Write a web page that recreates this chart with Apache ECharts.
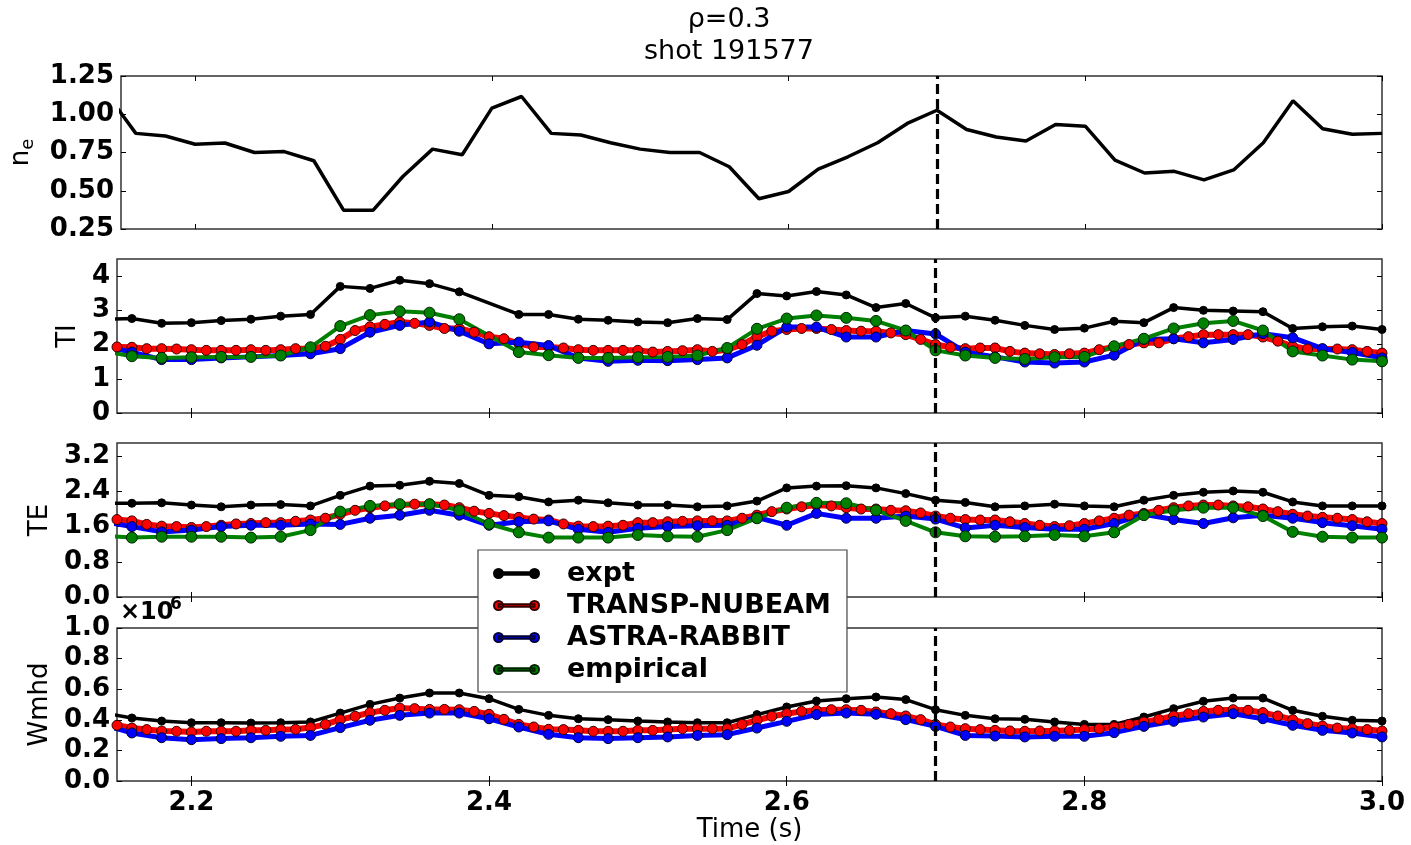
<!DOCTYPE html>
<html>
<head>
<meta charset="utf-8">
<title>rho=0.3 shot 191577</title>
<script src="https://cdn.jsdelivr.net/npm/echarts@6/dist/echarts.min.js"></script>
<style>
  html, body { margin: 0; padding: 0; background: #fff; }
  #chart { width: 1411px; height: 845px; }
</style>
</head>
<body>
<div id="chart"></div>
<script>
// time bases (s): expt / ASTRA / empirical every 20 ms, TRANSP every 10 ms
const tCoarse = [2.14, 2.16, 2.18, 2.20, 2.22, 2.24, 2.26, 2.28, 2.30, 2.32, 2.34, 2.36, 2.38, 2.40, 2.42,
  2.44, 2.46, 2.48, 2.50, 2.52, 2.54, 2.56, 2.58, 2.60, 2.62, 2.64, 2.66, 2.68, 2.70, 2.72, 2.74, 2.76,
  2.78, 2.80, 2.82, 2.84, 2.86, 2.88, 2.90, 2.92, 2.94, 2.96, 2.98, 3.00];
const tFine = [2.15, 2.16, 2.17, 2.18, 2.19, 2.20, 2.21, 2.22, 2.23, 2.24, 2.25, 2.26, 2.27, 2.28, 2.29,
  2.30, 2.31, 2.32, 2.33, 2.34, 2.35, 2.36, 2.37, 2.38, 2.39, 2.40, 2.41, 2.42, 2.43, 2.44, 2.45, 2.46,
  2.47, 2.48, 2.49, 2.50, 2.51, 2.52, 2.53, 2.54, 2.55, 2.56, 2.57, 2.58, 2.59, 2.60, 2.61, 2.62, 2.63,
  2.64, 2.65, 2.66, 2.67, 2.68, 2.69, 2.70, 2.71, 2.72, 2.73, 2.74, 2.75, 2.76, 2.77, 2.78, 2.79, 2.80,
  2.81, 2.82, 2.83, 2.84, 2.85, 2.86, 2.87, 2.88, 2.89, 2.90, 2.91, 2.92, 2.93, 2.94, 2.95, 2.96, 2.97,
  2.98, 2.99, 3.00];
const xTicks = [2.2, 2.4, 2.6, 2.8, 3.0];
const tMark = 2.7;

// n_e
const neExpt = [1.14, 0.875, 0.858, 0.804, 0.812, 0.75, 0.756, 0.696, 0.373, 0.373, 0.593, 0.772, 0.735,
  1.04, 1.116, 0.875, 0.864, 0.814, 0.772, 0.75, 0.75, 0.657, 0.448, 0.495, 0.642, 0.722, 0.814, 0.94,
  1.026, 0.90, 0.851, 0.825, 0.933, 0.922, 0.70, 0.616, 0.627, 0.571, 0.636, 0.814, 1.088, 0.905, 0.869, 0.875];

// TI
const tiExpt = [2.74, 2.76, 2.62, 2.64, 2.70, 2.74, 2.83, 2.88, 3.70, 3.64, 3.88, 3.78, 3.54, null, 2.88,
  2.88, 2.74, 2.71, 2.66, 2.64, 2.76, 2.73, 3.49, 3.42, 3.55, 3.45, 3.08, 3.20, 2.78, 2.83, 2.71, 2.56,
  2.44, 2.48, 2.68, 2.64, 3.08, 3.00, 2.98, 2.96, 2.47, 2.52, 2.54, 2.44];
const tiTransp = [1.93, 1.92, 1.88, 1.88, 1.87, 1.85, 1.83, 1.83, 1.83, 1.85, 1.83, 1.85, 1.88, 1.88, 1.95,
  2.15, 2.41, 2.52, 2.59, 2.66, 2.62, 2.56, 2.47, 2.47, 2.36, 2.23, 2.17, 2.03, 1.93, 1.93, 1.90, 1.85,
  1.83, 1.83, 1.83, 1.83, 1.78, 1.80, 1.82, 1.85, 1.80, 1.85, 2.00, 2.23, 2.39, 2.44, 2.47, 2.47, 2.44,
  2.41, 2.39, 2.39, 2.34, 2.29, 2.15, 2.00, 1.92, 1.88, 1.90, 1.90, 1.80, 1.75, 1.73, 1.71, 1.73, 1.75,
  1.85, 1.93, 2.00, 2.05, 2.05, 2.17, 2.23, 2.29, 2.29, 2.29, 2.29, 2.22, 2.10, 1.95, 1.87, 1.87, 1.87,
  1.85, 1.80, 1.75];
const tiAstra = [1.96, 1.78, 1.56, 1.56, 1.61, 1.64, 1.68, 1.73, 1.88, 2.36, 2.56, 2.66, 2.39, 2.02, 2.07,
  1.97, 1.61, 1.51, 1.54, 1.53, 1.56, 1.61, 1.98, 2.51, 2.51, 2.22, 2.22, 2.41, 2.31, 1.78, 1.64, 1.49,
  1.46, 1.49, 1.69, 2.15, 2.17, 2.05, 2.15, 2.32, 2.20, 1.88, 1.77, 1.61];
const tiEmp = [1.81, 1.66, 1.61, 1.63, 1.64, 1.64, 1.68, 1.92, 2.54, 2.86, 2.97, 2.93, 2.74, null, 1.78,
  1.69, 1.61, 1.61, 1.63, 1.64, 1.68, 1.90, 2.46, 2.76, 2.85, 2.78, 2.69, 2.41, 1.83, 1.68, 1.61, 1.58,
  1.63, 1.64, 1.95, 2.17, 2.47, 2.62, 2.69, 2.41, 1.80, 1.68, 1.56, 1.51];

// TE
const teExpt = [2.13, 2.13, 2.14, 2.09, 2.05, 2.09, 2.10, 2.07, 2.31, 2.52, 2.54, 2.63, 2.58, 2.31, 2.28,
  2.16, 2.20, 2.14, 2.09, 2.09, 2.05, 2.07, 2.18, 2.48, 2.52, 2.53, 2.48, 2.35, 2.20, 2.15, 2.05, 2.07,
  2.11, 2.07, 2.05, 2.20, 2.31, 2.38, 2.41, 2.38, 2.16, 2.07, 2.07, 2.07];
const teTransp = [1.76, 1.73, 1.65, 1.61, 1.60, 1.58, 1.60, 1.63, 1.66, 1.67, 1.69, 1.69, 1.72, 1.75, 1.79,
  1.88, 1.97, 2.03, 2.07, 2.09, 2.11, 2.11, 2.09, 2.03, 1.95, 1.90, 1.85, 1.81, 1.77, 1.75, 1.66, 1.61,
  1.60, 1.61, 1.63, 1.69, 1.69, 1.71, 1.72, 1.73, 1.73, 1.73, 1.79, 1.86, 1.94, 2.00, 2.05, 2.09, 2.07,
  2.03, 2.00, 2.00, 1.97, 1.96, 1.91, 1.84, 1.79, 1.76, 1.75, 1.75, 1.71, 1.67, 1.63, 1.60, 1.62, 1.67,
  1.73, 1.79, 1.86, 1.90, 1.97, 2.03, 2.07, 2.09, 2.09, 2.07, 2.05, 2.00, 1.94, 1.88, 1.84, 1.81, 1.79,
  1.76, 1.71, 1.67];
const teAstra = [1.72, 1.60, 1.48, 1.52, 1.60, 1.63, 1.63, 1.66, 1.65, 1.79, 1.86, 1.97, 1.86, 1.63, 1.71,
  1.73, 1.54, 1.47, 1.56, 1.60, 1.62, 1.63, 1.81, 1.63, 1.90, 1.79, 1.79, 1.84, 1.77, 1.57, 1.63, 1.58,
  1.54, 1.54, 1.67, 1.88, 1.76, 1.67, 1.80, 1.86, 1.79, 1.69, 1.62, 1.54];
const teEmp = [1.39, 1.35, 1.37, 1.37, 1.37, 1.35, 1.37, 1.52, 1.94, 2.07, 2.11, 2.11, 1.97, 1.66, 1.47,
  1.35, 1.35, 1.35, 1.41, 1.38, 1.37, 1.52, 1.79, 2.03, 2.14, 2.13, 1.97, 1.73, 1.47, 1.38, 1.37, 1.38,
  1.41, 1.38, 1.47, 1.86, 1.97, 2.03, 2.03, 1.84, 1.48, 1.37, 1.35, 1.35];

// Wmhd, in units of 1e6
const wExpt = [0.446, 0.412, 0.392, 0.381, 0.381, 0.379, 0.381, 0.386, 0.444, 0.501, 0.542, 0.575, 0.575,
  0.538, 0.468, 0.429, 0.407, 0.401, 0.392, 0.386, 0.381, 0.381, 0.434, 0.484, 0.523, 0.538, 0.549, 0.532,
  0.466, 0.429, 0.407, 0.403, 0.386, 0.370, 0.370, 0.418, 0.473, 0.521, 0.542, 0.542, 0.462, 0.423, 0.397, 0.392];
const wTransp = [0.364, 0.346, 0.336, 0.327, 0.325, 0.320, 0.325, 0.325, 0.325, 0.331, 0.331, 0.336, 0.338,
  0.349, 0.370, 0.401, 0.423, 0.447, 0.462, 0.477, 0.473, 0.468, 0.468, 0.466, 0.455, 0.436, 0.403, 0.370,
  0.353, 0.338, 0.336, 0.331, 0.325, 0.325, 0.325, 0.331, 0.331, 0.336, 0.342, 0.342, 0.342, 0.342, 0.370,
  0.397, 0.423, 0.440, 0.455, 0.462, 0.466, 0.466, 0.462, 0.451, 0.440, 0.425, 0.401, 0.370, 0.353, 0.342,
  0.336, 0.331, 0.327, 0.325, 0.327, 0.327, 0.331, 0.336, 0.342, 0.353, 0.370, 0.386, 0.403, 0.425, 0.440,
  0.455, 0.462, 0.466, 0.462, 0.447, 0.425, 0.401, 0.375, 0.359, 0.346, 0.342, 0.336, 0.327];
const wAstra = [0.37, 0.314, 0.283, 0.270, 0.277, 0.283, 0.292, 0.298, 0.349, 0.397, 0.429, 0.444, 0.444,
  0.407, 0.353, 0.305, 0.283, 0.277, 0.283, 0.288, 0.298, 0.303, 0.346, 0.390, 0.434, 0.444, 0.436, 0.401,
  0.357, 0.298, 0.294, 0.288, 0.292, 0.292, 0.316, 0.357, 0.390, 0.418, 0.440, 0.407, 0.364, 0.331, 0.314, 0.288];

// y tick labels
const neTicks = [0.25, 0.5, 0.75, 1.0, 1.25];
const tiTicks = [0, 1, 2, 3, 4];
const teTicks = [0, 0.8, 1.6, 2.4, 3.2];
const wTicks = [0, 0.2, 0.4, 0.6, 0.8, 1.0];

const legendNames = ["expt", "TRANSP-NUBEAM", "ASTRA-RABBIT", "empirical"];

let FONT = "DejaVu Sans";
let dom = document.getElementById("chart");
let myChart = echarts.init(dom, null, { renderer: "canvas" });

function pairs(t, v) {
  return t.map(function (x, i) { return [x, v[i]]; });
}

// one entry per panel (top to bottom)
let panels = [
  { top: 76, height: 153, min: 0.25, max: 1.25, ticks: neTicks, digits: 2, name: "{n|n}{e|e}", gap: 84 },
  { top: 259, height: 154, min: 0, max: 4.5, ticks: tiTicks, digits: 0, name: "TI", gap: 32 },
  { top: 443, height: 154, min: 0, max: 3.5, ticks: teTicks, digits: 1, name: "TE", gap: 59 },
  { top: 628, height: 153, min: 0, max: 1.0, ticks: wTicks, digits: 1, name: "Wmhd", gap: 60 }
];

let grid = [];
let xAxis = [];
let yAxis = [];
panels.forEach(function (p, i) {
  grid.push({
    left: 117, right: 29, top: p.top, height: p.height,
    show: true, borderColor: "#333", borderWidth: 1.5, backgroundColor: "transparent"
  });
  let isLast = i === panels.length - 1;
  // bottom axis
  xAxis.push({
    type: "value", gridIndex: i, position: "bottom", min: 2.15, max: 3.0,
    axisLine: { show: false },
    splitLine: { show: false },
    axisTick: { show: true, inside: true, length: 5, customValues: xTicks, lineStyle: { color: "#000" } },
    axisLabel: {
      show: isLast, customValues: xTicks, margin: 9,
      color: "#000", fontFamily: FONT, fontWeight: "bold", fontSize: 26,
      formatter: function (v) { return v.toFixed(1); }
    },
    name: isLast ? "Time (s)" : "",
    nameLocation: "middle",
    nameGap: 34,
    nameTextStyle: { color: "#000", fontFamily: FONT, fontSize: 26 }
  });
  // top axis, ticks only
  xAxis.push({
    type: "value", gridIndex: i, position: "top", min: 2.15, max: 3.0,
    axisLine: { show: false },
    splitLine: { show: false },
    axisTick: { show: true, inside: true, length: 5, customValues: xTicks, lineStyle: { color: "#000" } },
    axisLabel: { show: false }
  });
  yAxis.push({
    type: "value", gridIndex: i, position: "left", min: p.min, max: p.max,
    axisLine: { show: false },
    splitLine: { show: false },
    axisTick: { show: true, inside: true, length: 5, customValues: p.ticks, lineStyle: { color: "#000" } },
    axisLabel: {
      customValues: p.ticks, margin: 7,
      color: "#000", fontFamily: FONT, fontWeight: "bold", fontSize: 26,
      formatter: (function (d) { return function (v) { return v.toFixed(d); }; })(p.digits)
    },
    name: p.name,
    nameLocation: "middle",
    nameGap: p.gap,
    nameTextStyle: {
      color: "#000", fontFamily: FONT, fontSize: 26,
      rich: {
        n: { fontFamily: FONT, fontSize: 26, color: "#000" },
        e: { fontFamily: FONT, fontSize: 18, color: "#000", verticalAlign: "bottom", padding: [14, 0, 0, 0] }
      }
    }
  });
  yAxis.push({
    type: "value", gridIndex: i, position: "right", min: p.min, max: p.max,
    axisLine: { show: false },
    splitLine: { show: false },
    axisTick: { show: true, inside: true, length: 5, customValues: p.ticks, lineStyle: { color: "#000" } },
    axisLabel: { show: false }
  });
});

let styles = {
  "expt": { color: "#000000", width: 3.5, size: 8, border: "#000000" },
  "TRANSP-NUBEAM": { color: "#ff0000", width: 6, size: 10, border: "#330000" },
  "ASTRA-RABBIT": { color: "#0000ff", width: 5, size: 10, border: "#000033" },
  "empirical": { color: "#008000", width: 4, size: 11, border: "#002200" }
};

function line(name, gi, t, v, markers) {
  let s = styles[name];
  return {
    name: name,
    type: "line",
    xAxisIndex: gi * 2,
    yAxisIndex: gi * 2,
    data: pairs(t, v),
    connectNulls: true,
    symbol: markers ? "circle" : "none",
    symbolSize: s.size,
    showSymbol: markers,
    clip: true,
    lineStyle: { color: s.color, width: s.width },
    itemStyle: { color: s.color, borderColor: s.border, borderWidth: 1 },
    emphasis: { disabled: true }
  };
}

function dashed() {
  return {
    silent: true,
    symbol: ["none", "none"],
    label: { show: false },
    lineStyle: { color: "#000", width: 3.2, type: [10, 5] },
    emphasis: { disabled: true },
    data: [{ xAxis: tMark }]
  };
}

let series = [
  line("expt", 0, tCoarse, neExpt, false),

  line("expt", 1, tCoarse, tiExpt, true),
  line("TRANSP-NUBEAM", 1, tFine, tiTransp, true),
  line("ASTRA-RABBIT", 1, tCoarse, tiAstra, true),
  line("empirical", 1, tCoarse, tiEmp, true),

  line("expt", 2, tCoarse, teExpt, true),
  line("TRANSP-NUBEAM", 2, tFine, teTransp, true),
  line("ASTRA-RABBIT", 2, tCoarse, teAstra, true),
  line("empirical", 2, tCoarse, teEmp, true),

  line("expt", 3, tCoarse, wExpt, true),
  line("TRANSP-NUBEAM", 3, tFine, wTransp, true),
  line("ASTRA-RABBIT", 3, tCoarse, wAstra, true)
];
// vertical dashed marker in every panel
[0, 4, 8, 11].forEach(function (k) { series[k].markLine = dashed(); });

// legend icon: line with a dot at each end
let legendIcon = "path://M0,5A4.5,4.5,0,1,1,9,5A4.5,4.5,0,1,1,0,5Z M4.5,3.8H40.5V6.2H4.5Z M36,5A4.5,4.5,0,1,1,45,5A4.5,4.5,0,1,1,36,5Z";

let option = {
  animation: false,
  backgroundColor: "#fff",
  grid: grid,
  xAxis: xAxis,
  yAxis: yAxis,
  legend: {
    data: legendNames,
    orient: "vertical",
    left: 478,
    top: 550,
    padding: [10, 16, 9, 15],
    itemGap: 5,
    itemWidth: 45,
    itemHeight: 10,
    icon: legendIcon,
    backgroundColor: "#fff",
    borderColor: "#444",
    borderWidth: 1.2,
    borderRadius: 0,
    selectedMode: false,
    z: 10,
    textStyle: {
      color: "#000", fontFamily: FONT, fontWeight: "bold", fontSize: 27, lineHeight: 26,
      padding: [0, 0, 0, 23]
    }
  },
  graphic: [
    { type: "text", x: 729, y: 20, style: { text: "ρ=0.3", fill: "#000", font: "27px '" + FONT + "'", align: "center", verticalAlign: "middle" } },
    { type: "text", x: 729, y: 52, style: { text: "shot 191577", fill: "#000", font: "27px '" + FONT + "'", align: "center", verticalAlign: "middle" } },
    { type: "text", x: 120, y: 613, style: { text: "×10", fill: "#000", font: "bold 24px '" + FONT + "'", align: "left", verticalAlign: "middle" } },
    { type: "text", x: 170, y: 605, style: { text: "6", fill: "#000", font: "bold 17px '" + FONT + "'", align: "left", verticalAlign: "middle" } }
  ],
  series: series
};
myChart.setOption(option, true);
</script>
</body>
</html>
